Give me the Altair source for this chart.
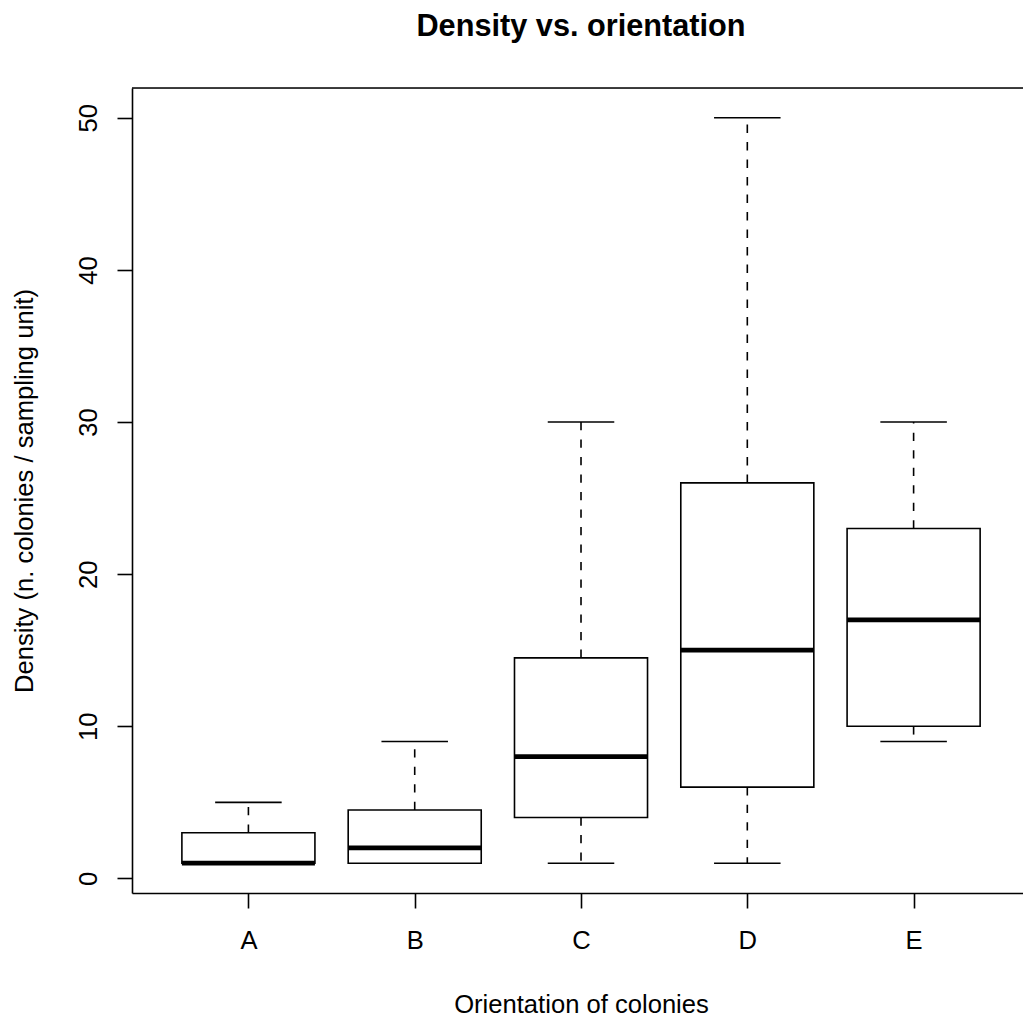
import altair as alt
import pandas as pd

# ---- data ----
groups = ["A", "B", "C", "D", "E"]
lower_whisker = [1, 1, 1, 1, 9]
q1 = [1, 1, 4, 6, 10]
median = [1, 2, 8, 15, 17]
q3 = [3, 4.5, 14.5, 26, 23]
upper_whisker = [5, 9, 30, 50, 30]
y_ticks = [0, 10, 20, 30, 40, 50]

df = pd.DataFrame({
    "group": groups,
    "idx": list(range(1, len(groups) + 1)),
    "lo": lower_whisker,
    "q1": q1,
    "med": median,
    "q3": q3,
    "hi": upper_whisker,
})

W, H = 891, 805
FONT = "Liberation Sans"
LW = 1.6

label_expr = "[" + ",".join("'%s'" % g for g in groups) + "][datum.value - 1]"

xscale = alt.Scale(domain=[0.3, 0.3 + W / 166.3], nice=False, zero=False)
yscale = alt.Scale(domain=[-0.96, 51.96], nice=False, zero=False)

xaxis = alt.Axis(
    title="Orientation of colonies", values=list(range(1, len(groups) + 1)),
    labelExpr=label_expr, grid=False, tickSize=15, tickWidth=LW, tickColor="black",
    domainColor="black", domainWidth=LW, labelFont=FONT, labelFontSize=25.6,
    labelColor="black", labelBaseline="alphabetic", labelPadding=40, labelAngle=0,
    labelAlign="center", labelFlush=False, labelOverlap=False,
    titleFont=FONT, titleFontSize=25.6, titleFontWeight="normal", titleColor="black",
    titleX=449, titleY=119, titleBaseline="alphabetic", titleAlign="center",
)
yaxis = alt.Axis(
    title="Density (n. colonies / sampling unit)", values=y_ticks, grid=False,
    tickSize=15, tickWidth=LW, tickColor="black", domainColor="black", domainWidth=LW,
    labelFont=FONT, labelFontSize=25.6, labelColor="black", labelAngle=270,
    labelAlign="center", labelBaseline="alphabetic", labelPadding=21,
    labelFlush=False, labelOverlap=False,
    titleFont=FONT, titleFontSize=25.6, titleFontWeight="normal", titleColor="black",
    titleAngle=270, titleX=-100, titleY=H / 2, titleBaseline="alphabetic",
    titleAlign="center",
)

base = alt.Chart(df).transform_calculate(
    bl="datum.idx - 0.4", br="datum.idx + 0.4",
    sl="datum.idx - 0.2", sr="datum.idx + 0.2",
)

dash = [8.3, 9.2]
upper = base.mark_rule(color="black", strokeWidth=LW, strokeDash=dash).encode(
    x=alt.X("idx:Q", scale=xscale, axis=xaxis),
    y=alt.Y("q3:Q", scale=yscale, axis=yaxis),
    y2="hi:Q",
)
lower = base.mark_rule(color="black", strokeWidth=LW, strokeDash=dash).encode(
    x=alt.X("idx:Q", scale=xscale, axis=xaxis),
    y=alt.Y("q1:Q", scale=yscale, axis=yaxis),
    y2="lo:Q",
)
staple_hi = base.mark_rule(color="black", strokeWidth=LW).encode(
    x=alt.X("sl:Q", scale=xscale, axis=xaxis), x2="sr:Q",
    y=alt.Y("hi:Q", scale=yscale, axis=yaxis),
)
staple_lo = base.mark_rule(color="black", strokeWidth=LW).encode(
    x=alt.X("sl:Q", scale=xscale, axis=xaxis), x2="sr:Q",
    y=alt.Y("lo:Q", scale=yscale, axis=yaxis),
)
box = base.mark_rect(fill="white", stroke="black", strokeWidth=LW).encode(
    x=alt.X("bl:Q", scale=xscale, axis=xaxis), x2="br:Q",
    y=alt.Y("q1:Q", scale=yscale, axis=yaxis), y2="q3:Q",
)
med = base.mark_rule(color="black", strokeWidth=4.8).encode(
    x=alt.X("bl:Q", scale=xscale, axis=xaxis), x2="br:Q",
    y=alt.Y("med:Q", scale=yscale, axis=yaxis),
)
top_frame = alt.Chart(alt.Data(values=[{}])).mark_rule(
    color="black", strokeWidth=LW
).encode(x=alt.value(0), x2=alt.value(W), y=alt.value(0))

chart = alt.layer(upper, lower, staple_hi, staple_lo, box, med, top_frame).properties(
    width=W, height=H,
    title=alt.TitleParams(
        "Density vs. orientation", font=FONT, fontSize=30.7, fontWeight="bold",
        color="black", anchor="middle", baseline="alphabetic", offset=21, dx=3.5,
    ),
    autosize=alt.AutoSizeParams(type="none"),
    padding={"left": 132, "top": 88, "right": 0, "bottom": 128},
).configure_view(strokeWidth=0).configure(background="white")

chart.save("out.html", embed_options={"renderer": "svg", "actions": False})
